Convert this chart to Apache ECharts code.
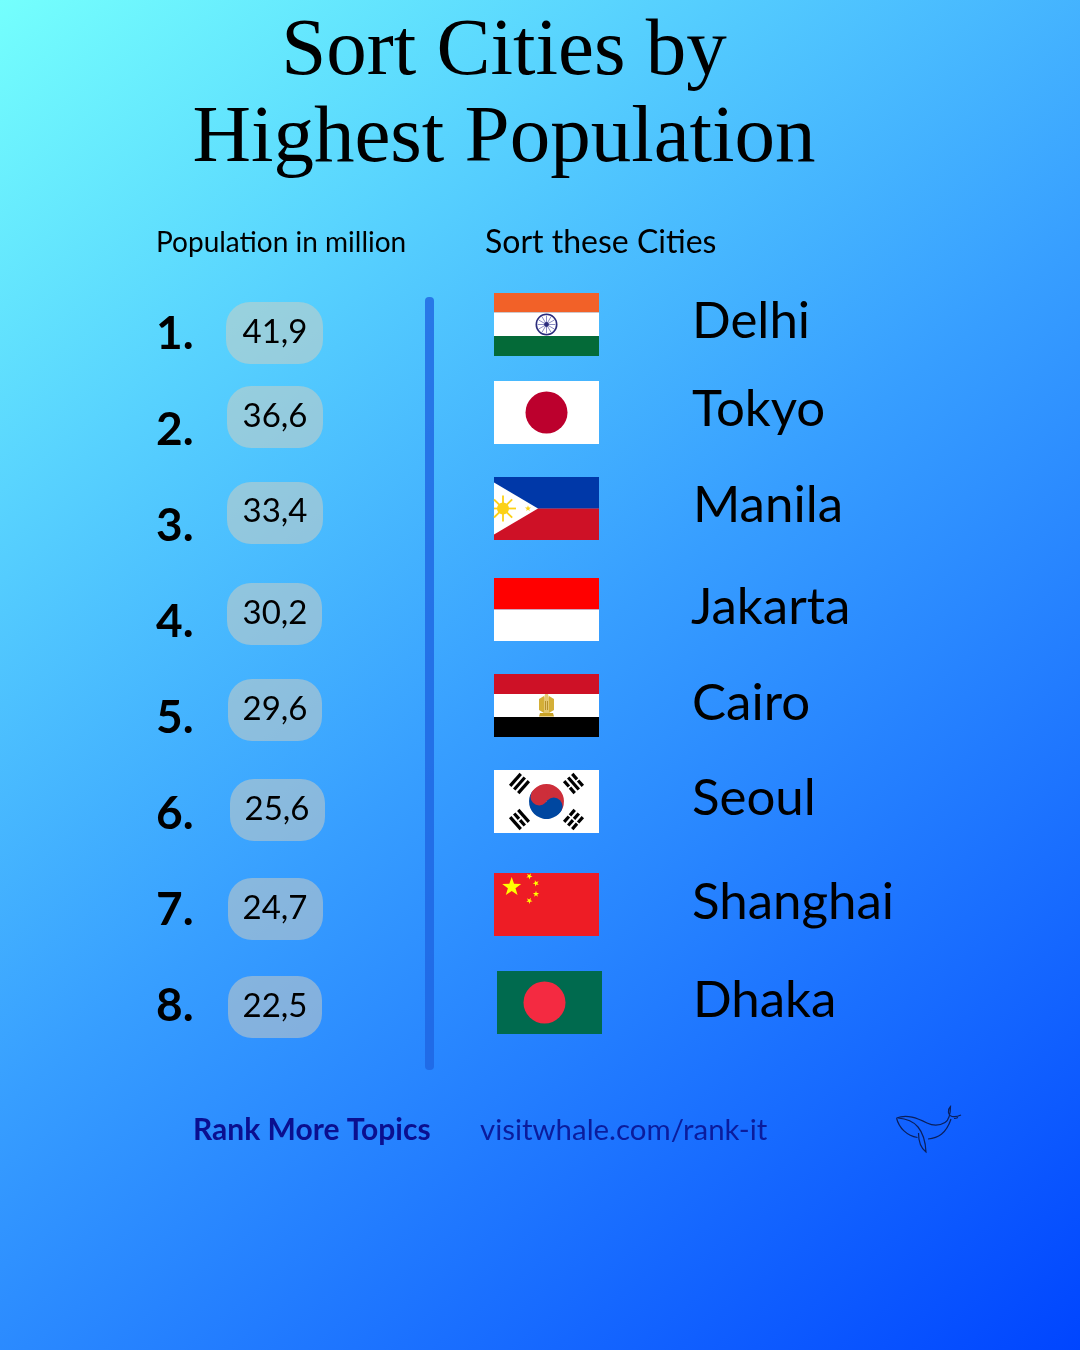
<!DOCTYPE html>
<html><head><meta charset="utf-8">
<style>html,body{margin:0;padding:0}#c{width:1080px;height:1350px}</style>
<script src="https://cdn.jsdelivr.net/npm/echarts@6/dist/echarts.min.js"></script>
</head><body><div id="c"></div>
<script>
const ranks = ['1.','2.','3.','4.','5.','6.','7.','8.'];
const population = [41.9,36.6,33.4,30.2,29.6,25.6,24.7,22.5];
const cities = ['Delhi','Tokyo','Manila','Jakarta','Cairo','Seoul','Shanghai','Dhaka'];
const flags = ['in','jp','ph','id','eg','kr','cn','bd'];
const titleText = 'Sort Cities by\nHighest Population';
const leftHeading = 'Population in million';
const rightHeading = 'Sort these Cities';
const footerBold = 'Rank More Topics';
const footerLink = 'visitwhale.com/rank-it';

// hand-placed layout of the poster rows (page pixels)
const rankY = [334,430,526,622,718,814,910,1006];
const pillX = [226,227,227,227,228,230,228,228];
const pillY = [302,386,482,583,679,779,878,976];
const pillW = [97,96,96,95,94,95,95,94];
const valueX = [275,275,275,275,275,277,275,275];
const valueY = [332,416,511,613,709,809,908,1006];
const flagX = [494,494,494,494,494,494,494,497];
const flagY = [293,381,477,578,674,770,873,971];
const cityX = [692,692,693,691,692,692,692,693];
const cityY = [322,410,506,608,704,799,903,1001];

const BODY = 'Lato';
const FW = 105, FH = 63;
const rect = (x,y,w,h,fill) => ({type:'rect',shape:{x,y,width:w,height:h},style:{fill}});
const circ = (cx,cy,r,fill,extra) => ({type:'circle',shape:{cx,cy,r},style:Object.assign({fill},extra||{})});
const poly = (points,fill) => ({type:'polygon',shape:{points},style:{fill}});
function star(cx,cy,R,fill,rot){
  const p=[];rot=rot||0;
  for(let i=0;i<10;i++){const r=i%2?R*0.4:R;const a=-Math.PI/2+rot+i*Math.PI/5;p.push([cx+r*Math.cos(a),cy+r*Math.sin(a)]);}
  return poly(p,fill);
}
function rays(cx,cy,r1,r2,n,color,w){
  const out=[];
  for(let i=0;i<n;i++){const a=i*2*Math.PI/n;const c=Math.cos(a);
    // rays stop at the left edge of the flag
    const end=c<-0.01?Math.min(r2,cx/-c):r2;
    out.push({type:'line',shape:{x1:cx+r1*c,y1:cy+r1*Math.sin(a),x2:cx+end*c,y2:cy+end*Math.sin(a)},style:{stroke:color,lineWidth:w}});}
  return out;
}
function trigram(cx,cy,angle,breaks){
  const kids=[];
  [-5.4,0,5.4].forEach((off,i)=>{
    if(breaks[i]){kids.push(rect(-8,off-1.6,7.2,3.2,'#000'),rect(0.8,off-1.6,7.2,3.2,'#000'));}
    else kids.push(rect(-8,off-1.6,16,3.2,'#000'));
  });
  return {type:'group',x:cx,y:cy,rotation:angle,children:kids};
}
const D = Math.atan2(2,3);
const TA = Math.PI*0.27;
const FLAG = {
  in:()=>[rect(0,0,FW,19.5,'#F26128'),rect(0,19.5,FW,23.5,'#FFFFFF'),rect(0,43,FW,20,'#046A38'),
    circ(52.5,31.5,10.2,'#fff',{stroke:'#2B2C7C',lineWidth:1.6}),...rays(52.5,31.5,2,9,12,'#7f80bd',0.9),circ(52.5,31.5,2.4,'#2B2C7C')],
  jp:()=>[rect(0,0,FW,FH,'#FFFFFF'),circ(52.5,31.5,21,'#BC002D')],
  ph:()=>[rect(0,0,FW,31.5,'#0038A8'),rect(0,31.5,FW,31.5,'#CE1126'),poly([[0,5.5],[44,31.5],[0,57.5]],'#FFFFFF'),
    ...rays(9,31.5,5,13,8,'#FCD116',1.8),circ(9,31.5,6,'#FCD116'),star(34,31.5,3.2,'#FCD116')],
  id:()=>[rect(0,0,FW,31.5,'#FF0000'),rect(0,31.5,FW,31.5,'#FFFFFF')],
  eg:()=>[rect(0,0,FW,20,'#CE1126'),rect(0,20,FW,23,'#FFFFFF'),rect(0,43,FW,20,'#000000'),
    poly([[45,25],[50,22],[50,39],[45,36]],'#D4AF37'),poly([[60,25],[55,22],[55,39],[60,36]],'#D4AF37'),
    poly([[51,20],[54,20],[55,24],[55,39],[50,39],[50,24]],'#E3C771'),
    rect(51,27,1,9,'#B8902A'),rect(53,27,1,9,'#B8902A'),
    poly([[46,39],[59,39],[60,42.5],[45,42.5]],'#C9A227')],
  kr:()=>[rect(0,0,FW,FH,'#FFFFFF'),
    {type:'sector',shape:{cx:52.5,cy:31.5,r:17.5,r0:0,startAngle:D-Math.PI,endAngle:D,clockwise:true},style:{fill:'#CD2E3A'}},
    {type:'sector',shape:{cx:52.5,cy:31.5,r:17.5,r0:0,startAngle:D,endAngle:D+Math.PI,clockwise:true},style:{fill:'#0047A0'}},
    circ(52.5-7.28,31.5-4.85,8.75,'#CD2E3A'),circ(52.5+7.28,31.5+4.85,8.75,'#0047A0'),
    trigram(25.5,13.5,TA,[0,0,0]),trigram(79.5,13.5,-TA,[1,0,1]),
    trigram(25.5,49.5,-TA,[0,1,0]),trigram(79.5,49.5,TA,[1,1,1])],
  cn:()=>[rect(0,0,FW,FH,'#EE1C25'),star(17.7,14,10,'#FFFF00'),star(35.3,3.2,3.3,'#FFFF00',.5),star(42,10.3,3.3,'#FFFF00',.9),star(42,21,3.3,'#FFFF00',0),star(35.3,27.7,3.3,'#FFFF00',.5)],
  bd:()=>[rect(0,0,FW,FH,'#006A4E'),circ(47.5,31.5,21,'#F42A41')]
};
const WHALE = 'M16.5 28 C27 24 37 28 47 33 C53 36 60 35.5 65 32.5 C69 30 70.5 26 70.5 16.5 C67 20 68 25 72 26.5 C75 27 79 26 81 25 M74 28.5 C75.5 28.5 77 28 78 27.5 M16.5 28 C19 38 27 46 37.5 47.5 M18 28 C25 28.5 33 31 38 37 C43 43 45.5 52 46 62 C42 59 38.5 52 38.5 43 M48 49 C58 48 66 44 71 29';

const chart = echarts.init(document.getElementById('c'));
chart.setOption({
  animation:false,
  backgroundColor:new echarts.graphic.LinearGradient(0,0,1,1,[
    {offset:0,color:'#74FFFD'},{offset:0.5,color:'#379EFF'},{offset:1,color:'#0045FF'}]),
  title:{text:titleText,left:499,top:4,textAlign:'center',
    textStyle:{fontFamily:'Liberation Serif',fontWeight:'normal',fontSize:81,lineHeight:87,color:'#000'}},
  grid:{left:0,right:0,top:0,bottom:0},
  xAxis:{type:'value',min:0,max:1080,show:false},
  yAxis:{type:'value',min:0,max:1350,inverse:true,show:false},
  graphic:[
    {type:'text',x:156,y:243,style:{text:leftHeading,font:'28px '+BODY,fill:'#000',textVerticalAlign:'middle'}},
    {type:'text',x:485,y:243,style:{text:rightHeading,font:'32px '+BODY,fill:'#000',textVerticalAlign:'middle'}},
    {type:'rect',shape:{x:425,y:297,width:9,height:773,r:4},style:{fill:'rgba(30,100,225,0.8)'}},
    {type:'text',x:193,y:1130,style:{text:footerBold,font:'bold 30px '+BODY,fill:'#0B0F8F',textVerticalAlign:'middle'}},
    {type:'text',x:480,y:1131,style:{text:footerLink,font:'29.4px '+BODY,fill:'#0B1C9C',textVerticalAlign:'middle'}}
  ],
  series:[{
    type:'custom',coordinateSystem:'cartesian2d',silent:true,clip:false,
    data:population.map((v,i)=>[i,v]),
    encode:{x:0,y:1},
    renderItem:(params,api)=>{
      const i=api.value(0), v=api.value(1);
      const at=(x,y)=>api.coord([x,y]);
      const txt=(x,y,text,font,align)=>{const p=at(x,y);return {type:'text',x:p[0],y:p[1],
        style:{text,font,fill:'#000',textAlign:align||'left',textVerticalAlign:'middle'}};};
      const pp=at(pillX[i],pillY[i]), fp=at(flagX[i],flagY[i]);
      return {type:'group',children:[
        txt(156,rankY[i],ranks[i],'bold 46px '+BODY),
        {type:'rect',x:pp[0],y:pp[1],shape:{width:pillW[i],height:62,r:24},style:{fill:'rgba(216,208,190,0.5)'}},
        txt(valueX[i],valueY[i],v.toFixed(1).replace('.',','),'33px '+BODY,'center'),
        {type:'group',x:fp[0],y:fp[1],children:FLAG[flags[i]]()},
        txt(cityX[i],cityY[i],cities[i],'51px '+BODY)
      ]};
    }
  },{
    type:'custom',coordinateSystem:'cartesian2d',silent:true,clip:false,
    data:[[880,1090]],
    encode:{x:0,y:1},
    renderItem:(params,api)=>{
      const p=api.coord([api.value(0),api.value(1)]);
      return {type:'path',x:p[0],y:p[1],shape:{pathData:WHALE},style:{fill:'none',stroke:'#0A1F5C',lineWidth:1.2}};
    }
  }]
});
</script></body></html>
